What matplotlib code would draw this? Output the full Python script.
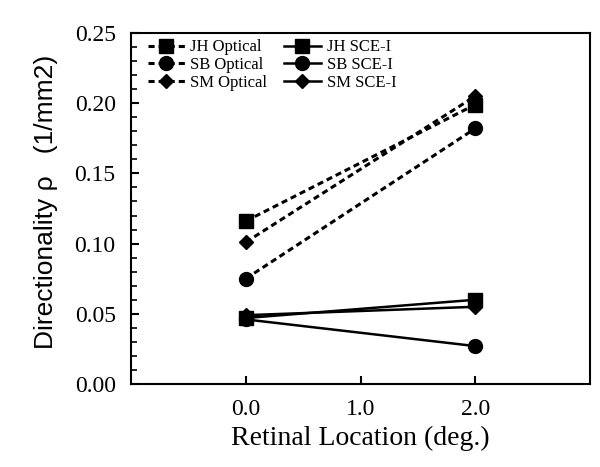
import matplotlib
matplotlib.use("Agg")
import matplotlib.pyplot as plt

locations = [0.0, 2.0]
jh_optical = [0.116, 0.199]
sb_optical = [0.075, 0.182]
sm_optical = [0.101, 0.205]
jh_sce = [0.047, 0.060]
sb_sce = [0.046, 0.027]
sm_sce = [0.049, 0.055]

fig = plt.figure(figsize=(6.0, 4.67), dpi=100)
ax = fig.add_axes([131/600, 1-384/467, (590-131)/600, (384-33)/467])

dash = (0, (2.0, 1.3))
series = [
    (jh_optical, 's', dash, 'JH Optical', 9.5),
    (sb_optical, 'o', dash, 'SB Optical', 10),
    (sm_optical, 'D', dash, 'SM Optical', 7.5),
    (jh_sce, 's', '-', 'JH SCE-I', 9.5),
    (sb_sce, 'o', '-', 'SB SCE-I', 10),
    (sm_sce, 'D', '-', 'SM SCE-I', 7.5),
]
for vals, m, ls, lab, ms in series:
    ax.plot(locations, vals, color='black', linestyle=ls, marker=m, markersize=ms,
            linewidth=2.2 if ls is dash else 1.8, label=lab)

ax.set_xlim(-1, 3)
ax.set_ylim(0, 0.25)
ax.set_xticks([0, 1, 2])
ax.set_xticklabels(['0.0', '1.0', '2.0'])
ax.set_xticks([-1, 3], minor=True)
ax.set_yticks([0, 0.05, 0.10, 0.15, 0.20, 0.25])
ax.set_yticklabels(['0.00', '0.05', '0.10', '0.15', '0.20', '0.25'])
ax.set_yticks([i * 0.01 for i in range(26)], minor=True)
ax.tick_params(which='both', direction='in', top=False, right=False)
ax.tick_params(which='major', length=6, width=1.5, labelsize=17, pad=11)
ax.tick_params(which='minor', length=4, width=1.2)
for lab in ax.get_xticklabels() + ax.get_yticklabels():
    lab.set_family('Liberation Serif')
for s in ax.spines.values():
    s.set_linewidth(1.5)

ax.set_xlabel('Retinal Location (deg.)', family='Liberation Serif', fontsize=20, labelpad=4)
ax.set_ylabel('Directionality ρ   (1/mm2)', family='Liberation Sans', fontsize=19)
ax.yaxis.set_label_coords(-0.159, 0.52)

leg = ax.legend(ncol=2, loc='upper left', frameon=False,
                prop={'family': 'Liberation Serif', 'size': 12},
                handlelength=2.2, numpoints=1, labelspacing=0.1, columnspacing=1.0,
                bbox_to_anchor=(0.015, 1.01), handletextpad=0.35, borderaxespad=0.2)

fig.savefig('out.png', dpi=100)
